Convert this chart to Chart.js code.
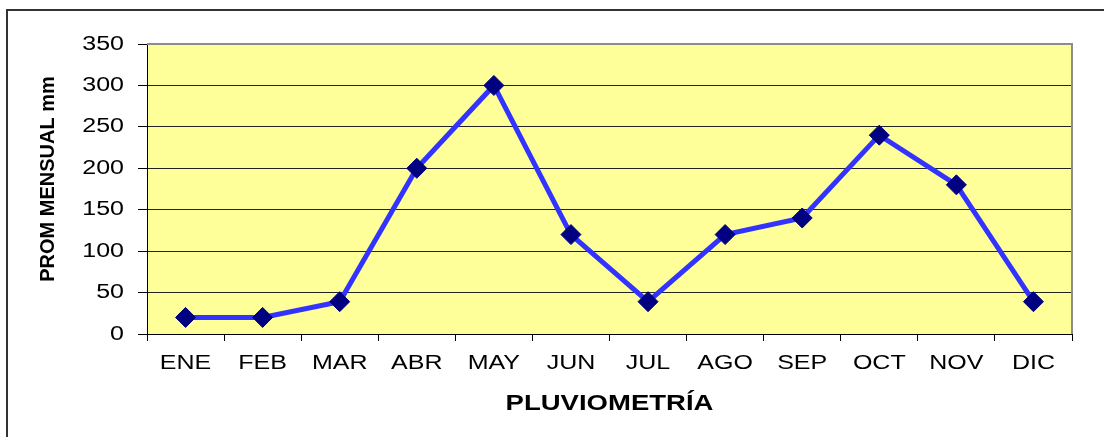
<!DOCTYPE html>
<html>
<head>
<meta charset="utf-8">
<script src="https://cdn.jsdelivr.net/npm/chart.js@4.4.1/dist/chart.umd.min.js"></script>
<style>
  html, body { margin: 0; padding: 0; background: #fff; overflow: hidden; }
  #wrap { position: relative; width: 1104px; height: 437px; }
  #frame { position: absolute; left: 6px; top: 9px; width: 1200px; height: 600px; border: 2px solid #333; }
  #grafico { position: absolute; left: 0; top: 0; }
</style>
</head>
<body>
<div id="wrap">
  <div id="frame"></div>
  <canvas id="grafico" width="1104" height="437"></canvas>
</div>
<script>
const meses = ['ENE', 'FEB', 'MAR', 'ABR', 'MAY', 'JUN', 'JUL', 'AGO', 'SEP', 'OCT', 'NOV', 'DIC'];
const promedioMensual = [20, 20, 39, 200, 300, 120, 39, 120, 140, 240, 180, 39];
const ejeYMin = 0;
const ejeYMax = 350;
const ejeYPaso = 50;

const fuente = '"Liberation Sans", Arial, sans-serif';

// el texto del original sale ensanchado, lo estiramos un poco en horizontal
const estirarTexto = {
    id: 'estirarTexto',
    beforeDraw(chart) {
        const ctx = chart.ctx;
        if (ctx.fillTextOriginal) return;
        ctx.fillTextOriginal = ctx.fillText;
        ctx.fillText = function (text, x, y) {
            this.save();
            this.translate(x, y);
            this.scale(1.25, 1);
            this.fillTextOriginal(text, 0, 0);
            this.restore();
        };
    }
};

const fondoAmarillo = {
    id: 'fondoAmarillo',
    beforeDraw(chart) {
        const ctx = chart.ctx, a = chart.chartArea;
        ctx.save();
        ctx.fillStyle = '#FFFF99';
        ctx.fillRect(a.left, a.top, a.right - a.left, a.bottom - a.top);
        ctx.restore();
    },
    beforeDatasetsDraw(chart) {
        const ctx = chart.ctx, a = chart.chartArea;
        ctx.save();
        ctx.strokeStyle = '#8c8c8c';
        ctx.lineWidth = 2;
        ctx.beginPath();
        ctx.moveTo(a.left, a.top);
        ctx.lineTo(a.right, a.top);
        ctx.lineTo(a.right, a.bottom);
        ctx.stroke();
        ctx.restore();
    }
};

const tituloY = {
    id: 'tituloY',
    afterDraw(chart) {
        const ctx = chart.ctx, a = chart.chartArea;
        ctx.save();
        ctx.translate(48, (a.top + a.bottom) / 2 - 10);
        ctx.rotate(-Math.PI / 2);
        ctx.font = 'bold 20px ' + fuente;
        ctx.fillStyle = '#000';
        ctx.textAlign = 'center';
        ctx.textBaseline = 'middle';
        (ctx.fillTextOriginal || ctx.fillText).call(ctx, 'PROM MENSUAL mm', 0, 0);
        ctx.restore();
    }
};

const grafico = new Chart(document.getElementById('grafico'), {
    type: 'line',
    data: {
        labels: meses,
        datasets: [{
            label: 'Pluviometría',
            data: promedioMensual,
            borderColor: '#3333FF',
            borderWidth: 5,
            tension: 0,
            pointStyle: 'rectRot',
            pointRadius: 10,
            pointBorderWidth: 1,
            pointBackgroundColor: '#000080',
            pointBorderColor: '#000080',
            clip: false
        }]
    },
    options: {
        responsive: false,
        animation: false,
        events: [],
        layout: {
            padding: { top: 44, right: 32, bottom: 0, left: 0 }
        },
        plugins: {
            legend: { display: false },
            tooltip: { enabled: false }
        },
        scales: {
            x: {
                offset: true,
                grid: {
                    offset: true,
                    drawOnChartArea: false,
                    drawTicks: true,
                    tickLength: 7,
                    color: '#000'
                },
                border: { color: '#000', width: 1 },
                ticks: {
                    color: '#000',
                    padding: 10,
                    maxRotation: 0,
                    font: { family: fuente, size: 20 }
                },
                title: {
                    display: true,
                    text: 'PLUVIOMETRÍA',
                    color: '#000',
                    padding: { top: 0, bottom: 20 },
                    font: { family: fuente, size: 22, weight: 'bold' }
                },
                afterFit(scale) { scale.height = 103; }
            },
            y: {
                min: ejeYMin,
                max: ejeYMax,
                grid: {
                    color: '#222',
                    tickLength: 9,
                    tickColor: '#000'
                },
                border: { color: '#000', width: 1 },
                ticks: {
                    stepSize: ejeYPaso,
                    color: '#000',
                    padding: 14,
                    font: { family: fuente, size: 20 }
                },
                afterFit(scale) { scale.width = 147; }
            }
        }
    },
    plugins: [estirarTexto, fondoAmarillo, tituloY]
});
</script>
</body>
</html>
